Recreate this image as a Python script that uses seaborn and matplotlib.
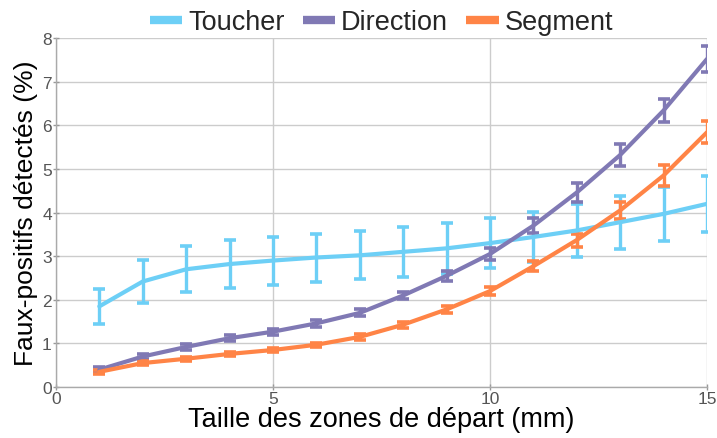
import numpy as np
import pandas as pd
import matplotlib
matplotlib.use('Agg')
import matplotlib.pyplot as plt
import seaborn as sns

# Values
tailles = list(range(1, 16))
toucher = [1.85, 2.42, 2.70, 2.82, 2.90, 2.97, 3.02, 3.10, 3.18, 3.30, 3.44, 3.59, 3.78, 3.97, 4.20]
toucher_err = [0.40, 0.50, 0.53, 0.54, 0.55, 0.55, 0.55, 0.57, 0.58, 0.58, 0.57, 0.60, 0.61, 0.62, 0.64]
direction = [0.40, 0.70, 0.92, 1.12, 1.27, 1.46, 1.70, 2.10, 2.55, 3.05, 3.70, 4.46, 5.32, 6.34, 7.52]
direction_err = [0.05, 0.06, 0.06, 0.07, 0.07, 0.08, 0.08, 0.09, 0.11, 0.14, 0.17, 0.21, 0.25, 0.27, 0.30]
segment = [0.35, 0.55, 0.65, 0.76, 0.85, 0.97, 1.15, 1.43, 1.78, 2.20, 2.77, 3.37, 4.05, 4.85, 5.84]
segment_err = [0.04, 0.04, 0.05, 0.05, 0.05, 0.05, 0.06, 0.07, 0.08, 0.09, 0.11, 0.15, 0.20, 0.23, 0.25]

series = ['Toucher', 'Direction', 'Segment']
couleurs = {'Toucher': '#6dcff6', 'Direction': '#8079b4', 'Segment': '#ff8446'}

df = pd.DataFrame({
    'taille': tailles * 3,
    'valeur': toucher + direction + segment,
    'err': toucher_err + direction_err + segment_err,
    'serie': np.repeat(series, len(tailles)),
})

sns.set_style('whitegrid')
plt.rcParams['font.family'] = ['Liberation Sans', 'DejaVu Sans']

fig = plt.figure(figsize=(7.17, 4.39), dpi=100)
ax = fig.add_axes([0.078, 0.116, 0.908, 0.795])

# error bars first, then lines on top
for s in series:
    d = df[df['serie'] == s]
    ax.errorbar(d['taille'], d['valeur'], yerr=d['err'], fmt='none',
                ecolor=couleurs[s], elinewidth=2.4, capsize=4.5, capthick=2.6, zorder=3)

sns.lineplot(data=df, x='taille', y='valeur', hue='serie', palette=couleurs,
             linewidth=3, ax=ax, zorder=4, legend=True)

ax.set_xlim(0, 15)
ax.set_ylim(0, 8)
ax.set_xticks([0, 5, 10, 15])
ax.set_yticks(range(0, 9))
ax.grid(True, color='#cccccc', linewidth=1)
for side in ['top', 'right']:
    ax.spines[side].set_visible(False)
for side in ['left', 'bottom']:
    ax.spines[side].set_color('#aaaaaa')
    ax.spines[side].set_linewidth(1)
ax.tick_params(axis='both', color='#999999', labelcolor='#555555', labelsize=12.5,
               length=4, width=1, direction='inout', left=True, bottom=True, pad=1)

ax.set_xlabel('Taille des zones de départ (mm)', fontsize=19.5, color='black', labelpad=0)
ax.set_ylabel('Faux-positifs détectés (%)', fontsize=19, color='black', labelpad=3)

handles, labels = ax.get_legend_handles_labels()
leg = ax.legend(handles, labels, loc='lower center', bbox_to_anchor=(0.5, 1.0),
                ncol=3, frameon=False, fontsize=19.5, handlelength=1.2,
                handletextpad=0.22, columnspacing=0.67, borderaxespad=0,
                borderpad=0.1)
for line in leg.get_lines():
    line.set_linewidth(6)
    line.set_solid_capstyle('butt')

fig.savefig('out.png', dpi=100)
